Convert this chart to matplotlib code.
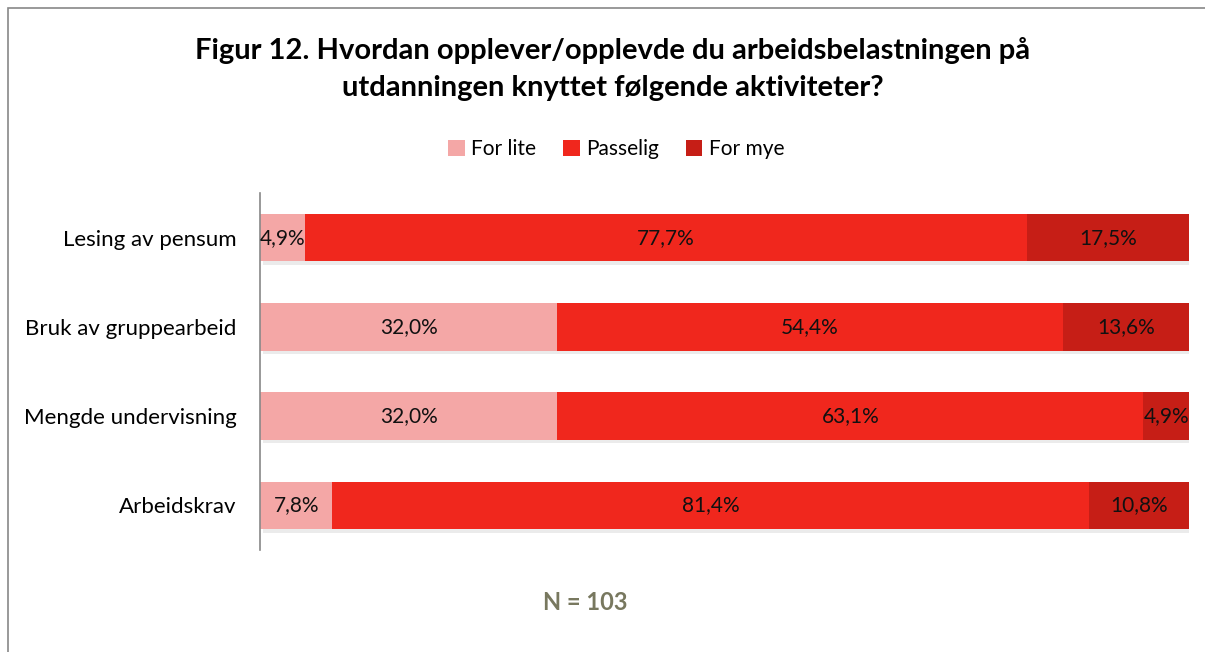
import matplotlib
matplotlib.use("Agg")
import matplotlib.pyplot as plt
from matplotlib.patches import Rectangle, Patch
import numpy as np

categories = ["Lesing av pensum", "Bruk av gruppearbeid", "Mengde undervisning", "Arbeidskrav"]
series_names = ["For lite", "Passelig", "For mye"]
for_lite = [4.9, 32.0, 32.0, 7.8]
passelig = [77.7, 54.4, 63.1, 81.4]
for_mye = [17.5, 13.6, 4.9, 10.8]
colors = ["#F4A7A6", "#F0271D", "#C61E16"]

plt.rcParams['font.family'] = ['Lato', 'DejaVu Sans']

fig = plt.figure(figsize=(12.05, 6.52), dpi=100)
ax = fig.add_axes([260/1205, 1-550/652, (1189-260)/1205, (550-193)/652])

data = np.array([for_lite, passelig, for_mye])
totals = data.sum(axis=0)
norm = data / totals * 100
y = np.arange(len(categories))
left = np.zeros(len(categories))
for i, name in enumerate(series_names):
    # shadow
    ax.barh(y + 0.04, norm[i], left=left + 0.3, height=0.53, color="#000000", alpha=0.08, zorder=1)
    ax.barh(y, norm[i], left=left, height=0.53, color=colors[i], zorder=2, label=name)
    for j in range(len(categories)):
        ax.text(left[j] + norm[i][j] / 2, y[j], f"{data[i][j]:.1f}%".replace(".", ","),
                ha="center", va="center", fontsize=15, color="#111111", zorder=3)
    left += norm[i]

ax.set_xlim(0, 100)
ax.set_ylim(len(categories) - 0.5, -0.5)
ax.set_yticks(y)
ax.set_yticklabels(categories, fontsize=16)
ax.tick_params(axis='y', length=0, pad=17)
ax.set_xticks([])
for s in ["top", "right", "bottom"]:
    ax.spines[s].set_visible(False)
ax.spines["left"].set_color("#888888")
ax.spines["left"].set_linewidth(1.2)

fig.text(613/1205, 1-50/652, "Figur 12. Hvordan opplever/opplevde du arbeidsbelastningen på",
         ha="center", va="center", fontsize=21, fontweight="bold")
fig.text(613/1205, 1-88/652, "utdanningen knyttet følgende aktiviteter?",
         ha="center", va="center", fontsize=21, fontweight="bold")

handles = [Patch(facecolor=c) for c in colors]
fig.legend(handles, series_names, loc="center", bbox_to_anchor=(616/1205, 1-149/652), ncol=3,
           frameon=False, fontsize=15, handlelength=0.8, handleheight=0.8, handletextpad=0.3,
           columnspacing=1.3)

fig.text(585/1205, 1-603/652, "N = 103", ha="center", va="center", fontsize=17,
         fontweight="bold", color="#78785F")

fig.patches.append(Rectangle((8/1205, -0.1), 1.2, 1-8/652 + 0.1, transform=fig.transFigure,
                             fill=False, edgecolor="#888888", linewidth=1.2))

fig.savefig("out.png", dpi=100)
